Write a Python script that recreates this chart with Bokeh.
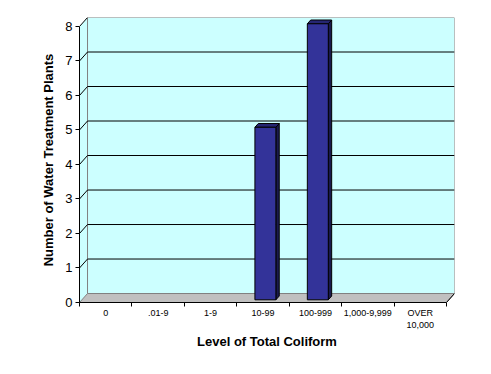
from bokeh.plotting import figure
from bokeh.models import Range1d, FixedTicker
from bokeh.embed import file_html
from bokeh.resources import INLINE

# ---- data ----
categories = ["0", ".01-9", "1-9", "10-99", "100-999", "1,000-9,999", "OVER\n10,000"]
plants = [0, 0, 0, 5, 8, 0, 0]
y_ticks = [0, 1, 2, 3, 4, 5, 6, 7, 8]

n = len(categories)
ymax = max(y_ticks)

# 3D depth offsets (data units)
DX = 0.153
DY = 0.26
BAR_W = 0.4
D0, D1 = 0.3, 0.72

FONT = "Liberation Sans"

p = figure(width=483, height=366, output_backend="svg", toolbar_location=None,
           x_range=Range1d(0, n + DX), y_range=Range1d(0, ymax + DY),
           min_border_left=79, min_border_right=29, min_border_top=17, min_border_bottom=64,
           background_fill_color="white", border_fill_color="white")
p.outline_line_color = None
p.grid.visible = False

# side wall
p.patch([0, DX, DX, 0], [0, DY, ymax + DY, ymax], fill_color="#CCFFFF", line_color=None)
# back wall
p.quad(left=[DX], right=[n + DX], bottom=[DY], top=[ymax + DY],
       fill_color="#CCFFFF", line_color="#808080", line_width=1)
# floor
p.patch([0, n, n + DX, DX], [0, 0, DY, DY], fill_color="#C0C0C0", line_color="#808080", line_width=1)
p.segment(x0=[n], y0=[0], x1=[n + DX], y1=[DY], line_color="black", line_width=1)

# gridlines on back wall
grid_vals = [v for v in y_ticks if 0 < v < ymax]
p.segment(x0=[DX] * len(grid_vals), y0=[v + DY for v in grid_vals],
          x1=[n + DX] * len(grid_vals), y1=[v + DY for v in grid_vals],
          line_color="black", line_width=1)
# diagonals from axis ticks to back wall
diag_vals = [v for v in y_ticks if v > 0]
p.segment(x0=[0] * len(diag_vals), y0=diag_vals,
          x1=[DX] * len(diag_vals), y1=[v + DY for v in diag_vals],
          line_color="black", line_width=1)

# bars
fx, fy, sx, sy, tx, ty = [], [], [], [], [], []
for i, v in enumerate(plants):
    if v <= 0:
        continue
    xl = i + 0.5 - BAR_W / 2
    xr = xl + BAR_W
    fx.append([xl + D0 * DX, xr + D0 * DX, xr + D0 * DX, xl + D0 * DX])
    fy.append([D0 * DY, D0 * DY, v + D0 * DY, v + D0 * DY])
    sx.append([xr + D0 * DX, xr + D1 * DX, xr + D1 * DX, xr + D0 * DX])
    sy.append([D0 * DY, D1 * DY, v + D1 * DY, v + D0 * DY])
    tx.append([xl + D0 * DX, xr + D0 * DX, xr + D1 * DX, xl + D1 * DX])
    ty.append([v + D0 * DY, v + D0 * DY, v + D1 * DY, v + D1 * DY])
p.patches(sx, sy, fill_color="#1A1A4D", line_color="black", line_width=1)
p.patches(tx, ty, fill_color="#262673", line_color="black", line_width=1)
p.patches(fx, fy, fill_color="#333399", line_color="black", line_width=1)

# y axis
ya = p.yaxis[0]
ya.ticker = FixedTicker(ticks=y_ticks)
ya.bounds = (0, ymax)
ya.major_tick_out = 4
ya.major_tick_in = 0
ya.minor_tick_out = 0
ya.minor_tick_in = 0
ya.axis_line_color = "black"
ya.major_label_text_font = FONT
ya.major_label_text_font_size = "13px"
ya.major_label_text_color = "black"
ya.major_label_standoff = 3
ya.axis_label = "Number of Water Treatment Plants"
ya.axis_label_text_font = FONT
ya.axis_label_text_font_size = "13px"
ya.axis_label_text_font_style = "bold"
ya.axis_label_text_color = "black"
ya.axis_label_standoff = 6

# x axis
xa = p.xaxis[0]
centers = [i + 0.5 for i in range(n)]
xa.ticker = FixedTicker(ticks=centers, minor_ticks=list(range(n + 1)))
xa.major_label_overrides = {c: lab for c, lab in zip(centers, categories)}
xa.bounds = (0, n)
xa.major_tick_out = 4
xa.major_tick_in = 0
xa.major_tick_line_color = None
xa.minor_tick_out = 4
xa.minor_tick_in = 0
xa.minor_tick_line_color = "black"
xa.axis_line_color = "black"
xa.major_label_text_font = FONT
xa.major_label_text_font_size = "9px"
xa.major_label_text_color = "black"
xa.major_label_standoff = 1
xa.axis_label = "Level of Total Coliform"
xa.axis_label_text_font = FONT
xa.axis_label_text_font_size = "13px"
xa.axis_label_text_font_style = "bold"
xa.axis_label_text_color = "black"
xa.axis_label_standoff = 1

open("out.html", "w").write(file_html(p, INLINE))
